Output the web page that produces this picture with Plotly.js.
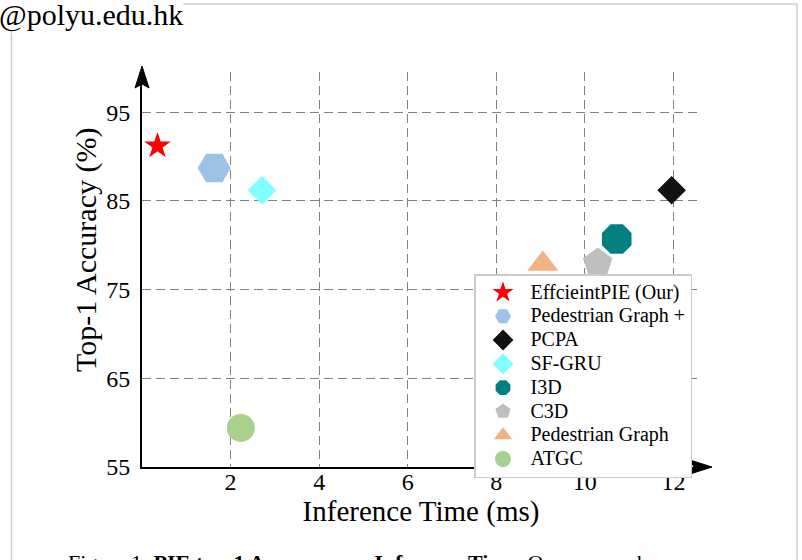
<!DOCTYPE html>
<html>
<head>
<meta charset="utf-8">
<script src="https://cdn.plot.ly/plotly-3.0.1.min.js"></script>
<style>
  html, body { margin: 0; padding: 0; background: #ffffff; }
  #chart { width: 802px; height: 560px; }
</style>
</head>
<body>
<div id="chart"></div>
<script>
// ---- data ----
const methods = ["EffcieintPIE (Our)", "Pedestrian Graph +", "PCPA", "SF-GRU", "I3D", "C3D", "Pedestrian Graph", "ATGC"];
const inferenceTime = [0.35, 1.63, 11.96, 2.71, 10.72, 10.29, 9.05, 2.23];
const top1Accuracy = [91.2, 88.7, 86.2, 86.2, 80.7, 78.0, 77.9, 59.4];
const symbols = ["star", "hexagon2", "diamond", "diamond", "octagon", "pentagon", "triangle-up", "circle"];
const colors = ["#ff0000", "#9dc3e6", "#111111", "#7fffff", "#008080", "#bfbfbf", "#f4b183", "#a9d18e"];
const sizes = [20, 33, 22, 22, 32, 31, 27, 28];
const xTicks = [2, 4, 6, 8, 10, 12];
const yTicks = [55, 65, 75, 85, 95];
const xTitle = "Inference Time (ms)";
const yTitle = "Top-1 Accuracy (%)";

// ---- layout geometry (pixels) ----
const W = 802, H = 560;
const M = { l: 142, r: 102, t: 72, b: 93 };
const PW = W - M.l - M.r, PH = H - M.t - M.b;
const px = v => (v - M.l) / PW;       // pixel x -> paper x
const py = v => (H - M.b - v) / PH;   // pixel y -> paper y

const FONT = "Liberation Serif, Times New Roman, serif";

const traces = methods.map((name, i) => ({
  type: "scatter",
  mode: "markers",
  name: '<span style="font-size:20px">' + name + '</span>',
  x: [inferenceTime[i]],
  y: [top1Accuracy[i]],
  marker: { symbol: symbols[i], color: colors[i], size: sizes[i], line: { width: 0 } },
  cliponaxis: false,
  hoverinfo: "x+y"
}));

const frameColor = "#cccccc";
const shapes = [
  // page frame
  { type: "line", xref: "paper", yref: "paper", x0: px(11), x1: px(797), y0: py(4), y1: py(4), line: { color: frameColor, width: 1.5 } },
  { type: "line", xref: "paper", yref: "paper", x0: px(11.5), x1: px(11.5), y0: py(4), y1: py(560), line: { color: frameColor, width: 1.5 } },
  { type: "line", xref: "paper", yref: "paper", x0: px(797), x1: px(797), y0: py(4), y1: py(560), line: { color: frameColor, width: 1.5 } },
  // x-axis arrow head
  { type: "path", xref: "paper", yref: "paper",
    path: `M ${px(712)} ${py(467)} L ${px(690)} ${py(474)} L ${px(694)} ${py(467)} L ${px(690)} ${py(460)} Z`,
    fillcolor: "#000000", line: { color: "#000000", width: 1 } },
  // y-axis arrow head
  { type: "path", xref: "paper", yref: "paper",
    path: `M ${px(142)} ${py(66)} L ${px(135)} ${py(88)} L ${px(142)} ${py(84)} L ${px(149)} ${py(88)} Z`,
    fillcolor: "#000000", line: { color: "#000000", width: 1 } }
];

const annotations = [
  { xref: "paper", yref: "paper", x: px(-2), y: py(-3), xanchor: "left", yanchor: "top",
    text: "@polyu.edu.hk", showarrow: false, bgcolor: "#ffffff", borderpad: 0,
    font: { family: FONT, size: 30, color: "#000000" } },
  { xref: "paper", yref: "paper", x: px(66), y: py(548), xanchor: "left", yanchor: "top",
    text: "Figure 1: <b>PIE top-1 Accuracy vs. Inference Time.</b> Our approach", showarrow: false,
    font: { family: FONT, size: 22, color: "#000000" } },
  // y-axis title
  { xref: "paper", yref: "paper", x: px(86), y: py(250), xanchor: "center", yanchor: "middle",
    text: yTitle, textangle: -90, showarrow: false,
    font: { family: FONT, size: 30, color: "#000000" } }
];

const layout = {
  width: W, height: H,
  margin: M,
  paper_bgcolor: "#ffffff",
  plot_bgcolor: "#ffffff",
  font: { family: FONT, color: "#000000" },
  showlegend: true,
  xaxis: {
    range: [0, 12.6],
    tickvals: xTicks,
    ticktext: xTicks.map(String),
    ticks: "",
    ticklabelstandoff: -8,
    tickfont: { family: FONT, size: 24, color: "#000000" },
    showgrid: true, gridcolor: "#808080", gridwidth: 1, griddash: "9px,5px",
    zeroline: false,
    showline: true, linecolor: "#000000", linewidth: 2,
    title: { text: xTitle, font: { family: FONT, size: 29, color: "#000000" }, standoff: 0 },
    fixedrange: true
  },
  yaxis: {
    range: [55, 55 + PH / 8.87],
    tickvals: yTicks,
    ticktext: yTicks.map(String),
    ticks: "",
    ticklabelstandoff: 5,
    tickfont: { family: FONT, size: 24, color: "#000000" },
    showgrid: true, gridcolor: "#808080", gridwidth: 1, griddash: "9px,5px",
    zeroline: false,
    showline: true, linecolor: "#000000", linewidth: 2,
    fixedrange: true
  },
  legend: {
    x: px(474), y: py(274), xanchor: "left", yanchor: "top",
    bgcolor: "#ffffff", bordercolor: "#cccccc", borderwidth: 1.5,
    font: { family: FONT, size: 16, color: "#000000" },
    itemwidth: 45, tracegroupgap: 0
  },
  shapes: shapes,
  annotations: annotations
};

Plotly.newPlot("chart", traces, layout, { displayModeBar: false, staticPlot: true });
</script>
</body>
</html>
